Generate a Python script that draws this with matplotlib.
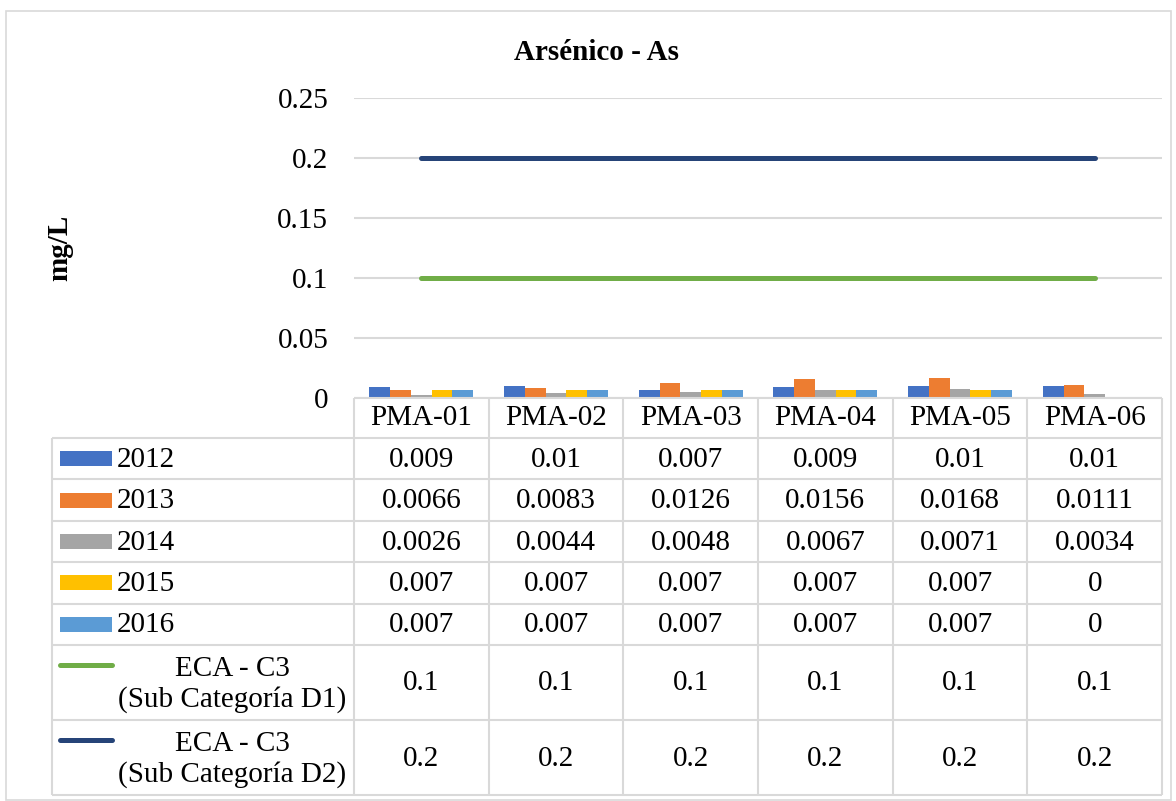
#!/usr/bin/python
# -*- coding: utf-8 -*-
"""
Arsénico - As: columnas por año en cada punto de monitoreo,
con los estándares ECA como líneas y la tabla de datos debajo.
"""
import numpy as np
import matplotlib
matplotlib.use("Agg")
from matplotlib import pyplot as plt
from matplotlib.patches import Rectangle

plt.rcParams['font.family'] = ['Liberation Serif', 'DejaVu Serif']
plt.rcParams['font.size'] = 21

STATIONS = ['PMA-01', 'PMA-02', 'PMA-03', 'PMA-04', 'PMA-05', 'PMA-06']
YEARS = ['2012', '2013', '2014', '2015', '2016']
AS_2012 = [0.009, 0.01, 0.007, 0.009, 0.01, 0.01]
AS_2013 = [0.0066, 0.0083, 0.0126, 0.0156, 0.0168, 0.0111]
AS_2014 = [0.0026, 0.0044, 0.0048, 0.0067, 0.0071, 0.0034]
AS_2015 = [0.007, 0.007, 0.007, 0.007, 0.007, 0]
AS_2016 = [0.007, 0.007, 0.007, 0.007, 0.007, 0]
ECA_D1 = [0.1, 0.1, 0.1, 0.1, 0.1, 0.1]
ECA_D2 = [0.2, 0.2, 0.2, 0.2, 0.2, 0.2]
ECA_NAMES = ['ECA - C3\n(Sub Categoría D1)', 'ECA - C3\n(Sub Categoría D2)']
YTICKS = [0, 0.05, 0.1, 0.15, 0.2, 0.25]

BAR_COLORS = ['#4472C4', '#ED7D31', '#A5A5A5', '#FFC000', '#5B9BD5']
LINE_COLORS = ['#70AD47', '#264478']
GRID = '#D9D9D9'

W, H = 1176, 801
fig = plt.figure(figsize=(W / 100, H / 100), dpi=100)
fig.patches.append(Rectangle((6 / W, 1 - 800 / H), 1165 / W, 789 / H,
                             transform=fig.transFigure, fill=False,
                             edgecolor=GRID, lw=1.2))


def px_axes(left, top, right, bottom):
    """ axes from pixel box (origin top-left) """
    return fig.add_axes([left / W, 1 - bottom / H, (right - left) / W,
                         (bottom - top) / H])


# ---- chart ----
ax = px_axes(354, 98, 1162, 398)
series = [AS_2012, AS_2013, AS_2014, AS_2015, AS_2016]
xpos = np.arange(len(STATIONS))
bw = 0.154
for i, vals in enumerate(series):
    ax.bar(xpos + (i - 2) * bw, vals, bw, color=BAR_COLORS[i], zorder=3)
for vals, col in zip([ECA_D1, ECA_D2], LINE_COLORS):
    ax.plot(xpos, vals, color=col, lw=3.6, solid_capstyle='round', zorder=4)
ax.set_xlim(-0.5, 5.5)
ax.set_ylim(0, 0.25)
ax.set_yticks(YTICKS)
ax.set_yticklabels(['0', '0.05', '0.1', '0.15', '0.2', '0.25'])
ax.grid(axis='y', color=GRID, lw=1.5, zorder=0)
ax.tick_params(axis='y', length=0, pad=18.5)
ax.set_xticks([])
for s in ax.spines.values():
    s.set_visible(False)
fig.text(60 / W, 1 - 248 / H, 'mg/L', rotation=90, ha='center',
         va='center', fontweight='bold')
fig.text(597 / W, 1 - 52 / H, 'Arsénico - As', ha='center', va='center',
         fontweight='bold')

# ---- data table ----
legw = (354 - 52) / (808 / 6)
tab = px_axes(52, 398, 1162, 795)
tab.set_xlim(-0.5 - legw, 5.5)
tab.set_ylim(397, 0)
tab.axis('off')
row_h = [40] + [41.4] * 5 + [75, 75]
edges = np.concatenate([[0], np.cumsum(row_h)])
left = -0.5 - legw
lkw = dict(color=GRID, lw=1.5, clip_on=False)
tab.hlines(0, -0.5, 5.5, **lkw)
tab.hlines(edges[1:], left, 5.5, **lkw)
tab.vlines(left, edges[1], edges[-1], **lkw)
tab.vlines(np.arange(-0.5, 6, 1), 0, edges[-1], **lkw)

px = legw / 302  # data units per pixel in x
for j, st in enumerate(STATIONS):
    tab.text(j, row_h[0] / 2, st, ha='center', va='center')

rows = series + [ECA_D1, ECA_D2]
for r, vals in enumerate(rows):
    yc = (edges[r + 1] + edges[r + 2]) / 2
    for j, v in enumerate(vals):
        tab.text(j, yc + 1, '%g' % v, ha='center', va='center')
    if r < len(YEARS):
        tab.add_patch(Rectangle((left + 8 * px, yc - 7.5), 52 * px, 15,
                                color=BAR_COLORS[r], lw=0))
        tab.text(left + 65 * px, yc + 1, YEARS[r], ha='left', va='center')
    else:
        k = r - len(YEARS)
        ytop = edges[r + 1]
        tab.plot([left + 8 * px, left + 60 * px], [ytop + 20, ytop + 20],
                 color=LINE_COLORS[k], lw=3.6, solid_capstyle='round')
        tab.text(left + 180 * px, yc + 2, ECA_NAMES[k], ha='center',
                 va='center', multialignment='center', linespacing=1.15)

fig.savefig('out.png', dpi=100)
